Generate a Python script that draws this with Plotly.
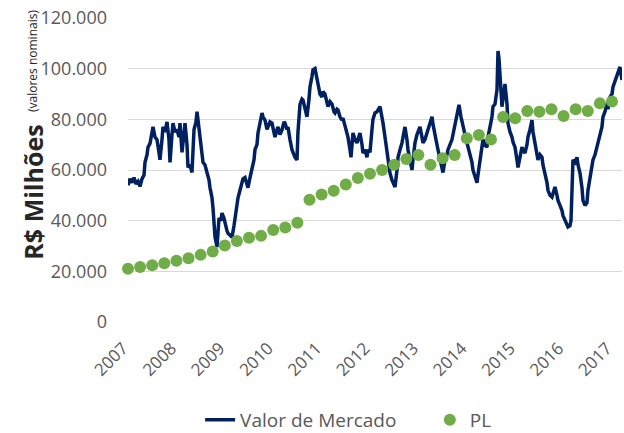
import plotly.graph_objects as go

# ---------------- data ----------------
years = [2007, 2008, 2009, 2010, 2011, 2012, 2013, 2014, 2015, 2016, 2017]
year_labels = [str(y) for y in years]

y_tickvals = [0, 20, 40, 60, 80, 100, 120]
y_ticktext = ["0", "20.000", "40.000", "60.000", "80.000", "100.000", "120.000"]

# Valor de Mercado (thousands of R$ milhões), time in decimal years
mv_t = [
    2007.000, 2007.041, 2007.083, 2007.124, 2007.165, 2007.207, 2007.248, 2007.289, 2007.331, 2007.351,
    2007.393, 2007.413, 2007.455, 2007.496, 2007.517, 2007.558, 2007.599, 2007.640, 2007.661, 2007.702,
    2007.723, 2007.764, 2007.806, 2007.847, 2007.868, 2007.909, 2007.930, 2007.971, 2008.012, 2008.054,
    2008.074, 2008.116, 2008.157, 2008.178, 2008.219, 2008.240, 2008.281, 2008.322, 2008.364, 2008.405,
    2008.426, 2008.467, 2008.488, 2008.529, 2008.550, 2008.591, 2008.632, 2008.674, 2008.694, 2008.736,
    2008.756, 2008.777, 2008.798, 2008.839, 2008.860, 2008.880, 2008.921, 2008.942, 2008.983, 2009.004,
    2009.045, 2009.066, 2009.107, 2009.149, 2009.190, 2009.211, 2009.252, 2009.273, 2009.314, 2009.355,
    2009.376, 2009.417, 2009.459, 2009.479, 2009.521, 2009.562, 2009.603, 2009.624, 2009.665, 2009.686,
    2009.727, 2009.769, 2009.789, 2009.831, 2009.872, 2009.893, 2009.934, 2009.975, 2010.017, 2010.037,
    2010.079, 2010.099, 2010.140, 2010.182, 2010.223, 2010.244, 2010.285, 2010.306, 2010.347, 2010.388,
    2010.430, 2010.450, 2010.492, 2010.512, 2010.554, 2010.595, 2010.616, 2010.657, 2010.698, 2010.740,
    2010.760, 2010.802, 2010.822, 2010.864, 2010.884, 2010.926, 2010.967, 2011.008, 2011.029, 2011.070,
    2011.112, 2011.132, 2011.174, 2011.215, 2011.256, 2011.277, 2011.318, 2011.339, 2011.380, 2011.421,
    2011.442, 2011.483, 2011.525, 2011.545, 2011.587, 2011.607, 2011.649, 2011.690, 2011.731, 2011.773,
    2011.793, 2011.835, 2011.855, 2011.897, 2011.938, 2011.959, 2012.000, 2012.041, 2012.062, 2012.103,
    2012.145, 2012.207, 2012.248, 2012.269, 2012.310, 2012.351, 2012.393, 2012.413, 2012.455, 2012.475,
    2012.517, 2012.558, 2012.579, 2012.620, 2012.661, 2012.702, 2012.723, 2012.764, 2012.785, 2012.826,
    2012.868, 2012.888, 2012.930, 2012.971, 2012.992, 2013.033, 2013.074, 2013.095, 2013.136, 2013.178,
    2013.219, 2013.240, 2013.281, 2013.302, 2013.343, 2013.384, 2013.405, 2013.446, 2013.488, 2013.508,
    2013.550, 2013.591, 2013.612, 2013.653, 2013.694, 2013.736, 2013.777, 2013.798, 2013.839, 2013.880,
    2013.921, 2013.963, 2014.004, 2014.025, 2014.066, 2014.107, 2014.128, 2014.169, 2014.211, 2014.231,
    2014.273, 2014.314, 2014.335, 2014.376, 2014.417, 2014.438, 2014.479, 2014.521, 2014.541, 2014.583,
    2014.624, 2014.645, 2014.665, 2014.707, 2014.727, 2014.769, 2014.789, 2014.831, 2014.851, 2014.893,
    2014.934, 2014.955, 2014.996, 2015.037, 2015.058, 2015.099, 2015.140, 2015.161, 2015.202, 2015.244,
    2015.264, 2015.306, 2015.347, 2015.368, 2015.409, 2015.450, 2015.471, 2015.512, 2015.554, 2015.574,
    2015.616, 2015.657, 2015.678, 2015.719, 2015.760, 2015.781, 2015.822, 2015.864, 2015.884, 2015.926,
    2015.967, 2015.988, 2016.029, 2016.070, 2016.091, 2016.132, 2016.153, 2016.174, 2016.194, 2016.236,
    2016.277, 2016.298, 2016.339, 2016.380, 2016.401, 2016.442, 2016.483, 2016.504, 2016.545, 2016.587,
    2016.607, 2016.649, 2016.690, 2016.711, 2016.752, 2016.793, 2016.814, 2016.855, 2016.897, 2016.917,
    2016.959, 2017.000, 2017.021, 2017.062, 2017.103, 2017.124, 2017.165, 2017.186, 2017.207,
]
mv_v = [
    54.0, 56.5, 55.0, 57.0, 54.5, 55.5, 53.5, 56.5, 58.0, 63.0,
    66.0, 69.0, 70.5, 74.0, 77.0, 73.0, 72.0, 67.0, 64.0, 72.0,
    77.0, 75.0, 79.0, 72.0, 63.0, 74.0, 78.5, 75.0, 76.0, 73.0,
    78.5, 67.0, 75.0, 78.5, 70.0, 61.0, 62.0, 59.0, 76.0, 79.0,
    83.0, 77.0, 72.0, 68.0, 63.0, 62.0, 59.0, 56.0, 53.0, 49.0,
    45.0, 40.0, 33.5, 29.6, 35.0, 41.0, 40.0, 43.0, 41.0, 39.0,
    36.0, 35.0, 34.0, 33.5, 38.0, 41.0, 45.0, 49.0, 52.0, 55.0,
    56.5, 57.0, 54.0, 53.0, 57.0, 61.0, 64.0, 68.0, 70.0, 74.6,
    78.0, 82.5, 81.0, 79.7, 76.0, 77.0, 79.0, 78.5, 75.0, 73.0,
    76.0, 77.0, 74.0, 75.8, 79.0, 78.5, 76.0, 77.0, 72.0, 68.0,
    66.0, 65.0, 64.0, 75.0, 86.0, 88.0, 87.6, 84.0, 81.0, 88.0,
    92.8, 97.0, 99.5, 100.0, 98.0, 92.8, 90.0, 88.8, 91.0, 90.0,
    87.0, 85.0, 87.0, 86.0, 83.0, 82.5, 84.0, 83.7, 81.0, 79.7,
    80.5, 77.0, 75.0, 73.0, 68.0, 65.0, 74.6, 72.0, 70.7, 73.0,
    74.6, 70.0, 66.7, 68.0, 65.0, 68.0, 67.0, 76.0, 80.0, 82.5,
    83.0, 85.0, 81.0, 78.5, 73.0, 68.0, 62.0, 58.8, 56.0, 55.0,
    53.3, 60.0, 65.0, 68.0, 70.7, 75.0, 77.0, 72.0, 68.0, 64.0,
    60.0, 64.0, 70.7, 74.0, 75.0, 77.0, 73.0, 70.7, 72.0, 74.6,
    78.0, 79.0, 81.0, 78.0, 73.0, 70.0, 68.0, 64.0, 61.0, 59.0,
    64.0, 66.0, 68.0, 70.0, 72.0, 76.0, 79.7, 83.0, 85.7, 81.0,
    77.0, 74.0, 70.7, 69.0, 66.7, 63.0, 60.0, 57.0, 55.0, 58.0,
    64.0, 68.0, 72.0, 70.0, 69.0, 73.0, 77.0, 81.0, 85.0, 86.0,
    91.6, 107.0, 104.0, 87.6, 85.0, 91.0, 94.0, 86.0, 78.5, 75.0,
    73.0, 71.0, 69.0, 64.0, 61.0, 65.0, 69.0, 68.0, 66.7, 70.0,
    73.0, 76.0, 79.7, 75.0, 70.7, 67.0, 64.0, 66.0, 65.0, 62.0,
    58.8, 55.0, 52.0, 50.0, 49.3, 51.0, 53.3, 50.0, 48.0, 46.0,
    44.0, 42.0, 40.0, 38.0, 37.5, 38.0, 40.0, 52.0, 64.0, 63.0,
    65.0, 62.0, 58.8, 53.0, 48.0, 46.0, 47.0, 52.0, 57.0, 60.0,
    64.0, 66.0, 69.0, 71.0, 73.0, 77.0, 81.0, 83.0, 86.4, 84.0,
    88.8, 90.0, 92.8, 95.0, 96.7, 98.0, 100.7, 98.0, 95.5,
]

# PL (quarterly), thousands of R$ milhões
pl_t = [
    2007.00, 2007.25, 2007.50, 2007.75, 2008.00, 2008.25, 2008.50, 2008.75,
    2009.00, 2009.25, 2009.50, 2009.75, 2010.00, 2010.25, 2010.50, 2010.75,
    2011.00, 2011.25, 2011.50, 2011.75, 2012.00, 2012.25, 2012.50, 2012.75,
    2013.00, 2013.25, 2013.50, 2013.75, 2014.00, 2014.25, 2014.50, 2014.75,
    2015.00, 2015.25, 2015.50, 2015.75, 2016.00, 2016.25, 2016.50, 2016.75,
    2017.00, 2017.25,
]
pl_v = [
    21.0, 21.7, 22.4, 23.2, 24.2, 25.2, 26.5, 27.8,
    30.2, 32.0, 33.3, 34.0, 36.3, 37.3, 39.2, 48.3,
    50.3, 51.8, 54.3, 56.8, 58.5, 60.0, 62.1, 64.3,
    65.9, 62.1, 64.6, 65.9, 72.5, 73.8, 72.0, 80.9,
    80.4, 83.3, 83.0, 84.0, 81.3, 84.0, 83.3, 86.3,
    87.0, 90.3,
]

title_main = "R$ Milhões"
title_sub = "(valores nominais)"

# ---------------- figure ----------------
NAVY = "#002060"
GREEN = "#70AD47"
GRAY_TXT = "#595959"
FONT = "'Open Sans', Lato, sans-serif"

fig = go.Figure()
fig.add_trace(go.Scatter(
    x=mv_t, y=mv_v, mode="lines", name="Valor de Mercado", legend="legend",
    line=dict(color=NAVY, width=3.5), hoverinfo="skip",
))
fig.add_trace(go.Scatter(
    x=pl_t, y=pl_v, mode="markers", name="PL", cliponaxis=False, legend="legend2",
    marker=dict(color=GREEN, size=12, line=dict(width=0)), hoverinfo="skip",
))

legend_common = dict(
    orientation="h", xanchor="left", y=-0.322, yanchor="middle",
    font=dict(size=19, color=GRAY_TXT), bgcolor="rgba(0,0,0,0)",
)

fig.update_layout(
    width=624, height=433,
    margin=dict(l=128, r=2, t=18, b=111, autoexpand=False),
    paper_bgcolor="white", plot_bgcolor="white",
    font=dict(family=FONT, color=GRAY_TXT, size=18),
    showlegend=True,
    legend=dict(x=0.146, **legend_common),
    legend2=dict(x=0.611, **legend_common),
    annotations=[
        dict(
            text="<b>" + title_main + "</b>",
            xref="paper", yref="paper", x=-0.192, y=0.426,
            xanchor="center", yanchor="middle", textangle=-90, showarrow=False,
            font=dict(family=FONT, size=25, color="#262626"),
        ),
        dict(
            text=title_sub,
            xref="paper", yref="paper", x=-0.192, y=0.859,
            xanchor="center", yanchor="middle", textangle=-90, showarrow=False,
            font=dict(family=FONT, size=12, color="#262626"),
        ),
    ],
)

fig.update_xaxes(
    range=[2007, 2017.207], tickvals=years, ticktext=year_labels,
    tickangle=-45, showgrid=False, zeroline=False, showline=False,
    ticks="", automargin=False, ticklabelstandoff=12, ticklabelshift=-5,
    tickfont=dict(size=17, color=GRAY_TXT),
)
fig.update_yaxes(
    range=[0, 120], tickvals=y_tickvals, ticktext=y_ticktext,
    showgrid=True, gridcolor="#D9D9D9", gridwidth=1, zeroline=False,
    showline=False, ticks="", ticklabelstandoff=20, automargin=False,
    tickfont=dict(size=18, color=GRAY_TXT),
)

fig.write_html(
    "out.html",
    config={"displayModeBar": False},
    post_script="document.body.style.margin='0px';",
)
